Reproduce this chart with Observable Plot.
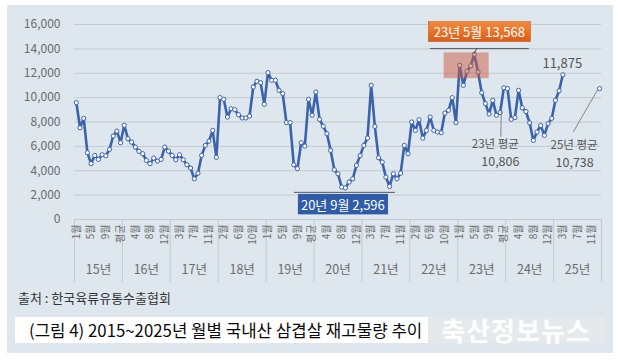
<!DOCTYPE html>
<html><head><meta charset="utf-8">
<script src="https://cdn.jsdelivr.net/npm/d3@7"></script>
<script src="https://cdn.jsdelivr.net/npm/@observablehq/plot@0.6"></script>
<style>
html,body{margin:0;padding:0;background:#fff;width:618px;height:362px;overflow:hidden;font-family:"Noto Sans CJK KR","Noto Sans",sans-serif;}
#panel{position:absolute;left:7px;top:5px;width:606px;height:348px;background:#dee6ee;}
#chart{position:absolute;left:0;top:0;}
#source{position:absolute;left:18px;top:289px;font-size:13px;color:#333;line-height:18px;}
#titlebar{position:absolute;left:15px;top:317px;width:589px;height:26px;background:#fff;}
#title{position:absolute;left:14px;top:0;line-height:26px;font-size:16.8px;color:#0a0a0a;white-space:nowrap;}
#wm{position:absolute;right:0;top:0;width:176px;height:26px;background:#e6e9ec;color:#fff;font-weight:700;font-size:26px;line-height:26px;text-align:center;letter-spacing:1px;}
</style></head>
<body>
<div id="panel"></div>
<div id="chart"></div>
<div id="source">출처 : 한국육류유통수출협회</div>
<div id="titlebar"><div id="title">(그림 4) 2015~2025년 월별 국내산 삼겹살 재고물량 추이</div><div id="wm">축산정보뉴스</div></div>
<script>
// categories
const years = ["15년","16년","17년","18년","19년","20년","21년","22년","23년","24년","25년"];
const periods = ["1월","2월","3월","4월","5월","6월","7월","8월","9월","10월","11월","12월","평균"];
// monthly stock (12 months + annual average), tons
const y2015 = [9590, 7530, 8300, 5480, 4580, 5260, 4930, 5310, 5230, 5750, 6850, 7250, 6300];
const y2016 = [7730, 6630, 6350, 5940, 5590, 5400, 4850, 4580, 5040, 4790, 4930, 5940, 5610];
const y2017 = [5260, 4900, 5310, 4900, 4490, 4220, 3340, 3800, 5260, 6080, 6430, 7310, 5100];
const y2018 = [10000, 9860, 8410, 9090, 9010, 8600, 8330, 8330, 8490, 10870, 11340, 11230, 9450];
const y2019 = [12050, 11420, 11420, 10600, 10330, 7950, 7950, 4490, 4170, 6300, 6020, 9860, 8550];
const y2020 = [10460, 8220, 7650, 7040, 5670, 4080, 3750, 2650, 2596, 3070, 3340, 4440, 5240];
const y2021 = [6080, 6680, 11010, 7640, 5070, 4710, 3480, 2710, 3750, 3340, 3800, 6080, 5400];
const y2022 = [8000, 7310, 8190, 6680, 7310, 8410, 7310, 7180, 7120, 8730, 8960, 10000, 7950];
const y2023 = [12650, 11010, 12160, 12600, 13568, 12100, 10400, 9510, 8660, 9780, 8550, 8780, 10806];
const y2024 = [10740, 8220, 8360, 10600, 9160, 8860, 7930, 6490, 7180, 7720, 6900, 7860, 8300];
const y2025 = [9780, 10560, 11875, null, null, null, null, null, null, null, null, null, 10738];
const yearValues = [y2015,y2016,y2017,y2018,y2019,y2020,y2021,y2022,y2023,y2024,y2025];
const yTicks = [0,2000,4000,6000,8000,10000,12000,14000,16000];
// highlighted high-stock period (category index range, value range)
const highlight = [{from: 99.8, to: 112, low: 11560, high: 13670}];
// callout texts
const peakLabel = {year: 8, period: 4, text: "23년 5월 13,568"};
const lowLabel = {year: 5, period: 8, text: "20년 9월 2,596"};
const lastLabel = {year: 10, period: 2, text: "11,875"};
const avgLabels = [
  {year: 8, title: "23년 평균", value: "10,806"},
  {year: 10, title: "25년 평균", value: "10,738"}
];

const P = periods.length;
const rows = years.flatMap((yr, k) => yearValues[k].map((v, m) => ({i: k * P + m, v, year: yr, period: periods[m]})));
const N = rows.length;
const monthTicks = d3.range(0, N, 4);
const sepTicks = d3.range(0, years.length + 1).map(k => k * P - 0.5);
const yearTicks = years.map((_, k) => k * P + (P - 1) / 2);
const font = '"Noto Sans CJK KR","Noto Sans",sans-serif';
const blue = "#3a63ab";

const chart = Plot.plot({
  width: 618, height: 290,
  marginTop: 24, marginBottom: 71, marginLeft: 74, marginRight: 17,
  style: {background: "transparent", fontFamily: font, color: "#666", overflow: "visible"},
  x: {domain: [-0.5, N - 0.5]},
  y: {domain: [0, 16000]},
  marks: [
    Plot.gridY(yTicks, {stroke: "#c3cad2", strokeOpacity: 1}),
    Plot.axisY(yTicks, {tickFormat: d3.format(","), tickSize: 0, tickPadding: 14, fontSize: 12, fill: "#6b6b6b"}),
    Plot.axisX(sepTicks, {tickSize: 63, tickFormat: () => "", stroke: "#c3cad2", strokeOpacity: 1}),
    Plot.axisX(monthTicks, {tickSize: 0, tickPadding: 5, tickRotate: -90, tickFormat: i => periods[i % P], fontSize: 10, fill: "#6b6b6b"}),
    Plot.axisX(yearTicks, {tickSize: 0, tickPadding: 46, tickFormat: i => years[Math.round((i - (P - 1) / 2) / P)], fontSize: 12.5, fill: "#6b6b6b"}),
    Plot.line(rows, {x: "i", y: "v", stroke: blue, strokeWidth: 2.6}),
    Plot.dot(rows.filter(d => d.v != null), {x: "i", y: "v", r: 2.1, fill: "white", stroke: blue, strokeWidth: 1}),
    Plot.rect(highlight, {x1: "from", x2: "to", y1: "low", y2: "high", fill: "#cc5a40", fillOpacity: 0.5})
  ]
});
document.getElementById("chart").appendChild(chart);

const sx = chart.scale("x"), sy = chart.scale("y");
const svg = d3.select(chart);
const valueAt = (k, m) => yearValues[k][m];
const g = svg.append("g").attr("font-family", font);

// gradient for the orange callout
const defs = svg.append("defs");
const grad = defs.append("linearGradient").attr("id", "og").attr("x1", 0).attr("y1", 0).attr("x2", 0).attr("y2", 1);
grad.append("stop").attr("offset", "0%").attr("stop-color", "#f28a3e");
grad.append("stop").attr("offset", "100%").attr("stop-color", "#d95d18");

// peak callout
{
  const px = sx.apply(peakLabel.year * P + peakLabel.period), py = sy.apply(valueAt(peakLabel.year, peakLabel.period));
  g.append("line").attr("x1", px + 3).attr("y1", py - 5).attr("x2", px).attr("y2", py).attr("stroke", "#444").attr("stroke-width", 1);
  g.append("line").attr("x1", px - 44).attr("x2", px + 55).attr("y1", py - 5).attr("y2", py - 5).attr("stroke", "#555").attr("stroke-width", 1);
  g.append("rect").attr("x", px - 45.5).attr("y", py - 32).attr("width", 102).attr("height", 20).attr("fill", "url(#og)").attr("stroke", "#c85a1c").attr("stroke-width", 0.6);
  g.append("text").attr("x", px + 5.5).attr("y", py - 22).attr("text-anchor", "middle").attr("dominant-baseline", "central")
    .attr("fill", "#fff").attr("font-size", 13).text(peakLabel.text);
}
// low callout
{
  const mx = sx.apply(lowLabel.year * P + lowLabel.period), my = sy.apply(valueAt(lowLabel.year, lowLabel.period));
  g.append("line").attr("x1", mx - 51).attr("x2", mx + 50).attr("y1", my + 5).attr("y2", my + 5).attr("stroke", "#555").attr("stroke-width", 1);
  g.append("rect").attr("x", mx - 47.5).attr("y", my + 6).attr("width", 91).attr("height", 21.5).attr("fill", "#2e5ca8").attr("stroke", "#e8eef6").attr("stroke-width", 0.8);
  g.append("text").attr("x", mx - 2).attr("y", my + 17).attr("text-anchor", "middle").attr("dominant-baseline", "central")
    .attr("fill", "#fff").attr("font-size", 13).text(lowLabel.text);
}
// last value label
{
  const lx = sx.apply(lastLabel.year * P + lastLabel.period), ly = sy.apply(valueAt(lastLabel.year, lastLabel.period));
  g.append("text").attr("x", lx).attr("y", ly - 12).attr("text-anchor", "middle").attr("dominant-baseline", "central")
    .attr("fill", "#555").attr("font-size", 13).text(lastLabel.text);
}
// annual average labels with leaders
avgLabels.forEach((a, n) => {
  const ax = sx.apply(a.year * P + P - 1), ay = sy.apply(valueAt(a.year, P - 1));
  const off = n === 0 ? {tx: -8, vx: -3, l1x: -2.5, l1y: 49.5, l2x: -2, l2y: 21} : {tx: -25, vx: -24.5, l1x: -26, l1y: 44, l2x: -1.5, l2y: 1.5};
  g.append("line").attr("x1", ax + off.l1x).attr("y1", ay + off.l1y).attr("x2", ax + off.l2x).attr("y2", ay + off.l2y)
    .attr("stroke", "#7a7a7a").attr("stroke-width", 0.9);
  g.append("text").attr("x", ax + off.tx).attr("y", ay + 56).attr("text-anchor", "middle").attr("dominant-baseline", "central")
    .attr("fill", "#555").attr("font-size", 11.5).text(a.title);
  g.append("text").attr("x", ax + off.vx).attr("y", ay + 73).attr("text-anchor", "middle").attr("dominant-baseline", "central")
    .attr("fill", "#555").attr("font-size", 12.5).text(a.value);
});
</script>
</body></html>
